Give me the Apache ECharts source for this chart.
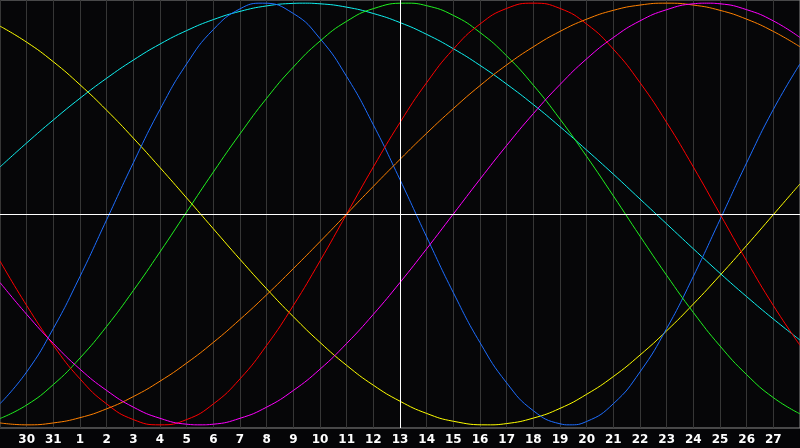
<!DOCTYPE html>
<html>
<head>
<meta charset="utf-8">
<script src="https://cdn.jsdelivr.net/npm/echarts@6/dist/echarts.min.js"></script>
<style>
html,body{margin:0;padding:0;background:#050507;}
#c{width:800px;height:448px;}
</style>
</head>
<body>
<div id="c"></div>
<script>
// day labels: position 0 = 29th, position 30 = 28th of next month
var days = ['29','30','31','1','2','3','4','5','6','7','8','9','10','11','12','13','14','15','16','17','18','19','20','21','22','23','24','25','26','27','28'];

// [position (days from left edge), value]
var yellow = [[0,0.891],[1,0.815],[2,0.722],[3,0.613],[4,0.492],[5,0.360],[6,0.220],[7,0.076],[8,-0.070],[9,-0.215],[10,-0.355],[11,-0.487],[12,-0.609],[13,-0.718],[14,-0.812],[15,-0.888],[16,-0.946],[17,-0.983],[18.27,-1.000],[19,-0.994],[20,-0.968],[21,-0.922],[22,-0.855],[23,-0.771],[24,-0.669],[25,-0.554],[26,-0.427],[27,-0.291],[28,-0.149],[29,-0.003],[30,0.143]];
var cyan = [[0,0.223],[1,0.337],[2,0.446],[3,0.549],[4,0.644],[5,0.730],[6,0.806],[7,0.870],[8,0.922],[9,0.961],[10,0.987],[11,0.999],[11.35,1.000],[12,0.997],[13,0.981],[14,0.951],[15,0.908],[16,0.852],[17,0.784],[18,0.705],[19,0.616],[20,0.519],[21,0.414],[22,0.303],[23,0.189],[24,0.071],[25,-0.047],[26,-0.165],[27,-0.281],[28,-0.392],[29,-0.498],[30,-0.598]];
var blue = [[0,-0.900],[1,-0.749],[2,-0.543],[3,-0.296],[4,-0.027],[5,0.243],[6,0.496],[7,0.712],[8,0.875],[9,0.973],[9.85,1.000],[11,0.951],[12,0.832],[13,0.652],[14,0.423],[15,0.163],[16,-0.109],[17,-0.373],[18,-0.610],[19,-0.801],[20,-0.933],[21,-0.995],[21.35,-1.000],[22,-0.984],[23,-0.900],[24,-0.749],[25,-0.543],[26,-0.296],[27,-0.027],[28,0.243],[29,0.496],[30,0.712]];
var green = [[0,-0.970],[1,-0.906],[2,-0.809],[3,-0.683],[4,-0.533],[5,-0.363],[6,-0.180],[7,0.010],[8,0.199],[9,0.380],[10,0.549],[11,0.697],[12,0.820],[13,0.914],[14,0.974],[15.2,1.000],[16,0.988],[17,0.942],[18,0.861],[19,0.750],[20,0.611],[21,0.450],[22,0.273],[23,0.086],[24,-0.105],[25,-0.291],[26,-0.467],[27,-0.626],[28,-0.762],[29,-0.871],[30,-0.948]];
var red = [[0,-0.223],[1,-0.434],[2,-0.623],[3,-0.782],[4,-0.901],[5,-0.975],[6,-1.000],[7,-0.975],[8,-0.901],[9,-0.782],[10,-0.623],[11,-0.434],[12,-0.223],[13,0.000],[14,0.223],[15,0.434],[16,0.623],[17,0.782],[18,0.901],[19,0.975],[20,1.000],[21,0.975],[22,0.901],[23,0.782],[24,0.623],[25,0.434],[26,0.223],[27,0.000],[28,-0.223],[29,-0.434],[30,-0.623]];
var orange = [[0,-0.991],[1,-1.000],[2,-0.991],[3,-0.966],[4,-0.924],[5,-0.866],[6,-0.793],[7,-0.707],[8,-0.609],[9,-0.500],[10,-0.383],[11,-0.259],[12,-0.131],[13,0.000],[14,0.131],[15,0.259],[16,0.383],[17,0.500],[18,0.609],[19,0.707],[20,0.793],[21,0.866],[22,0.924],[23,0.966],[24,0.991],[25,1.000],[26,0.991],[27,0.966],[28,0.924],[29,0.866],[30,0.793]];
var magenta = [[0,-0.325],[1,-0.476],[2,-0.614],[3,-0.736],[4,-0.837],[5,-0.916],[6,-0.969],[7,-0.997],[7.5,-1.000],[8,-0.997],[9,-0.969],[10,-0.916],[11,-0.837],[12,-0.736],[13,-0.614],[14,-0.476],[15,-0.325],[16,-0.165],[17,0.000],[18,0.165],[19,0.325],[20,0.476],[21,0.614],[22,0.736],[23,0.837],[24,0.916],[25,0.969],[26,0.997],[26.5,1.000],[27,0.997],[28,0.969],[29,0.916],[30,0.837]];

var seriesDefs = [
  {name:'yellow', data:yellow, color:'#ffff00'},
  {name:'cyan', data:cyan, color:'#10f0f0'},
  {name:'blue', data:blue, color:'#1e6eff'},
  {name:'green', data:green, color:'#20f020'},
  {name:'red', data:red, color:'#ff0000'},
  {name:'orange', data:orange, color:'#ff8000'},
  {name:'magenta', data:magenta, color:'#ff00ff'}
];

var chart = echarts.init(document.getElementById('c'), null, {renderer:'canvas'});
var series = seriesDefs.map(function(s){
  return {
    name: s.name, type:'line', data: s.data, smooth: 0.5, symbol:'none',
    lineStyle:{color:s.color, width:1}, itemStyle:{color:s.color},
    silent:true, z: 3
  };
});
series.unshift({
  type:'line', data:[], symbol:'none', silent:true, z:2,
  markLine:{
    silent:true, symbol:'none', animation:false,
    label:{show:false},
    lineStyle:{color:'#ffffff', width:1, type:'solid'},
    data:[{yAxis:0},{xAxis:days.indexOf('13')}]
  }
});

chart.setOption({
  animation:false,
  backgroundColor:'#050507',
  grid:{left:0, right:0, top:0, bottom:20, containLabel:false, outerBoundsMode:'none', show:true, borderColor:'#8a8a8a', borderWidth:1, backgroundColor:'#060608'},
  xAxis:{
    type:'value', min:0, max:days.length - 1, interval:1,
    axisLine:{show:false}, axisTick:{show:false},
    axisLabel:{color:'#ffffff', fontWeight:'bold', fontSize:12, fontFamily:'DejaVu Sans', margin:6,
      showMinLabel:false, showMaxLabel:false,
      formatter:function(v){ return (v <= 0 || v >= days.length - 1) ? '' : days[v]; }},
    splitLine:{show:true, lineStyle:{color:'#363636', width:1}}
  },
  yAxis:{type:'value', min:-1.015, max:1.015, show:false, splitLine:{show:false}},
  series: series
});
</script>
</body>
</html>
